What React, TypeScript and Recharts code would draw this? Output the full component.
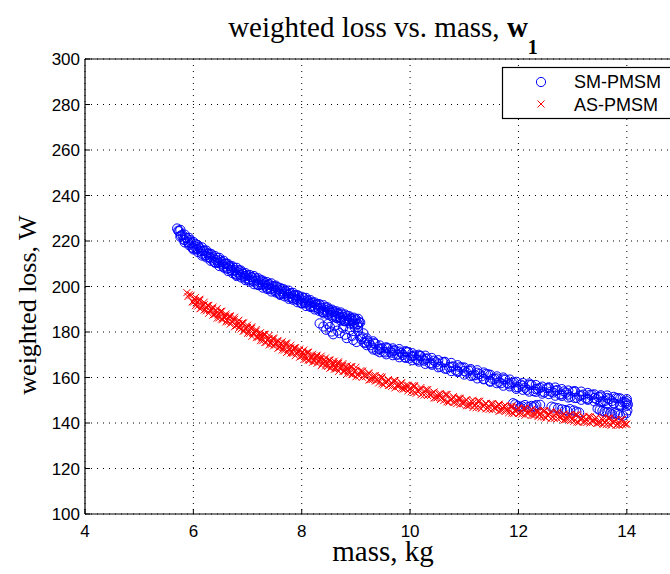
import React from 'react';
import { ScatterChart, Scatter, XAxis, YAxis, CartesianGrid, Legend } from 'recharts';

const xTicks = [4, 6, 8, 10, 12, 14];
const yTicks = [100, 120, 140, 160, 180, 200, 220, 240, 260, 280, 300];

const smMass = [
  5.70, 5.72, 5.74, 5.77, 5.80, 5.84, 5.88, 5.92, 5.96, 6.00,
  6.04, 6.08, 6.12, 6.16, 6.20, 6.24, 6.28, 6.32, 6.36, 6.40,
  6.44, 6.48, 6.52, 6.56, 6.60, 6.64, 6.68, 6.72, 6.76, 6.80,
  6.84, 6.88, 6.92, 6.96, 7.00, 7.04, 7.08, 7.12, 7.16, 7.20,
  7.24, 7.28, 7.32, 7.36, 7.40, 7.44, 7.48, 7.52, 7.56, 7.60,
  7.64, 7.68, 7.72, 7.76, 7.80, 7.84, 7.88, 7.92, 7.96, 8.00,
  8.04, 8.08, 8.12, 8.16, 8.20, 8.24, 8.28, 8.32, 8.36, 8.40,
  8.44, 8.48, 8.52, 8.56, 8.60, 8.64, 8.68, 8.72, 8.76, 8.80,
  8.84, 8.88, 8.92, 8.96, 9.00, 9.04, 9.08,
  5.82, 5.86, 5.90, 5.94, 5.98, 6.02, 6.06, 6.10, 6.14, 6.18,
  6.22, 6.26, 6.30, 6.34, 6.38, 6.42, 6.46, 6.50, 6.54, 6.58,
  6.62, 6.66, 6.70, 6.74, 6.78, 6.82, 6.86, 6.90, 6.94, 6.98,
  7.02, 7.06, 7.10, 7.14, 7.18, 7.22, 7.26, 7.30, 7.34, 7.38,
  7.42, 7.46, 7.50, 7.54, 7.58, 7.62, 7.66, 7.70, 7.74, 7.78,
  7.82, 7.86, 7.90, 7.94, 7.98, 8.02, 8.06, 8.10, 8.14, 8.18,
  8.22, 8.26, 8.30, 8.34, 8.38, 8.42, 8.46, 8.50, 8.54, 8.58,
  8.62, 8.66, 8.70, 8.74, 8.78, 8.82, 8.86, 8.90, 8.94, 8.98,
  9.02, 9.06,
  8.40, 8.48, 8.55, 8.62, 8.70, 8.83, 8.89, 8.98, 9.01, 9.07,
  8.33, 8.45, 8.52, 8.66, 8.76, 8.80, 8.93, 9.04, 9.10, 9.14, 8.58, 8.95,
  9.12, 9.18, 9.24, 9.30, 9.36, 9.42, 9.48, 9.54, 9.60, 9.66,
  9.72, 9.78, 9.84, 9.90, 9.96, 10.02, 10.08, 10.14, 10.20, 10.26,
  10.32, 10.40, 10.48, 10.56, 10.64, 10.72, 10.80, 10.88, 10.96, 11.04,
  11.12, 11.20, 11.28, 11.36, 11.44, 11.52, 11.60, 11.68, 11.76, 11.84,
  11.92, 12.00, 12.08, 12.16, 12.24, 12.32, 12.40, 12.48, 12.56, 12.64,
  12.72, 12.80, 12.88, 12.96, 13.04, 13.12, 13.20, 13.28, 13.36, 13.44,
  13.52, 13.60, 13.68, 13.76, 13.84, 13.92, 14.00, 14.02,
  9.15, 9.21, 9.27, 9.33, 9.39, 9.45, 9.51, 9.57, 9.63, 9.69,
  9.75, 9.81, 9.87, 9.93, 9.99, 10.05, 10.11, 10.17, 10.23, 10.29,
  10.36, 10.44, 10.52, 10.60, 10.68, 10.76, 10.84, 10.92, 11.00, 11.08,
  11.16, 11.24, 11.32, 11.40, 11.48, 11.56, 11.64, 11.72, 11.80, 11.88,
  11.96, 12.04, 12.12, 12.20, 12.28, 12.36, 12.44, 12.52, 12.60, 12.68,
  12.76, 12.84, 12.92, 13.00, 13.08, 13.16, 13.24, 13.32, 13.40, 13.48,
  13.56, 13.64, 13.72, 13.80, 13.88, 13.96,
  11.90, 11.99, 12.03, 12.12, 12.24, 12.27, 12.33, 12.61, 12.73, 12.86,
  12.95, 13.07, 13.50, 13.59, 13.69, 13.78, 13.87, 13.99, 13.99,
  11.94, 12.07, 12.18, 12.30, 12.40, 12.66, 12.80, 12.90, 13.02, 13.12,
  13.46, 13.55, 13.64, 13.73, 13.83, 13.93, 14.01,
];
const smLoss = [
  225.5, 224.5, 224.3, 222.5, 222.6, 220.4, 221.3, 218.9, 219.1, 216.8,
  218.7, 216.5, 216.7, 214.4, 215.9, 213.7, 214.5, 212.3, 212.8, 210.7,
  212.6, 210.6, 210.8, 208.7, 210.2, 208.0, 208.9, 206.7, 207.2, 205.2,
  207.2, 205.2, 205.6, 203.5, 205.1, 203.1, 204.1, 202.1, 202.7, 200.8,
  202.9, 201.0, 201.4, 199.4, 201.1, 199.1, 200.1, 198.1, 198.7, 196.8,
  198.9, 197.0, 197.4, 195.4, 197.1, 195.1, 196.1, 194.1, 194.7, 192.8,
  194.9, 193.0, 193.4, 191.4, 193.1, 191.1, 192.1, 190.1, 190.7, 188.8,
  190.9, 189.0, 189.4, 187.4, 189.1, 187.1, 188.1, 186.1, 186.7, 184.9,
  187.1, 185.3, 185.7, 183.8, 185.6, 183.5, 184.2,
  220.6, 221.5, 219.6, 220.4, 217.1, 217.8, 216.2, 217.4, 215.6, 215.6,
  213.5, 214.6, 212.9, 214.0, 210.9, 211.7, 210.3, 211.5, 209.7, 209.9,
  207.8, 209.0, 207.3, 208.3, 205.3, 206.3, 204.9, 206.2, 204.5, 204.7,
  202.8, 204.1, 202.6, 203.8, 200.9, 201.9, 200.6, 202.0, 200.4, 200.7,
  198.8, 200.1, 198.6, 199.8, 196.9, 197.9, 196.6, 198.0, 196.4, 196.7,
  194.8, 196.1, 194.6, 195.8, 192.9, 193.9, 192.6, 194.0, 192.4, 192.7,
  190.8, 192.1, 190.6, 191.8, 188.9, 189.9, 188.6, 190.0, 188.4, 188.7,
  186.8, 188.1, 186.6, 187.8, 184.9, 186.0, 184.8, 186.3, 184.8, 185.2,
  183.2, 184.3,
  182.4, 183.5, 180.2, 182.8, 179.5, 177.3, 180.9, 182.0, 175.6, 178.0,
  183.8, 181.0, 182.2, 180.6, 181.8, 178.8, 178.3, 180.5, 176.8, 179.4, 179.0, 176.5,
  177.7, 175.3, 175.4, 173.1, 174.8, 172.5, 172.9, 171.0, 172.8, 170.9,
  172.0, 170.1, 170.8, 169.0, 171.1, 169.3, 169.7, 167.7, 169.4, 167.4,
  168.4, 166.2, 166.7, 164.7, 166.7, 164.6, 164.9, 162.8, 164.4, 162.2,
  163.1, 161.0, 161.5, 159.4, 161.4, 159.4, 159.6, 157.5, 159.1, 157.0,
  157.8, 155.7, 156.4, 154.6, 156.7, 154.9, 155.4, 153.5, 155.3, 153.4,
  154.5, 152.6, 153.3, 151.5, 153.8, 152.0, 152.5, 150.6, 152.4, 150.5,
  151.6, 149.7, 150.5, 148.7, 150.9, 149.1, 149.6, 148.1,
  175.3, 176.2, 174.2, 175.1, 171.8, 172.6, 171.4, 172.9, 171.4, 171.8,
  170.0, 171.4, 169.9, 171.2, 168.4, 169.4, 168.1, 169.5, 167.9, 168.2,
  166.2, 167.4, 165.8, 166.8, 163.8, 164.7, 163.2, 164.5, 162.8, 163.0,
  160.9, 162.1, 160.5, 161.6, 158.5, 159.4, 158.0, 159.2, 157.5, 157.7,
  155.7, 156.9, 155.5, 156.8, 154.0, 155.1, 153.8, 155.3, 153.8, 154.2,
  152.5, 153.9, 152.5, 153.8, 151.0, 152.1, 150.9, 152.4, 151.0, 151.4,
  149.6, 151.0, 149.6, 150.9, 148.1, 149.2,
  148.7, 147.5, 146.9, 147.9, 147.5, 146.9, 147.9, 147.2, 146.5, 145.7,
  146.1, 145.0, 145.7, 145.0, 144.3, 144.3, 143.5, 144.3, 148.7,
  148.2, 147.3, 147.0, 147.4, 148.0, 146.8, 146.0, 145.4, 145.5, 144.6,
  146.3, 145.3, 144.8, 143.8, 144.0, 143.2, 145.5,
];

// SM-PMSM points along the upper and lower edges of the band
const smEdgeMass = [
  5.76, 5.84, 5.92, 6.00, 6.08, 6.16, 6.24, 6.32, 6.40, 6.48,
  6.56, 6.64, 6.72, 6.80, 6.88, 6.96, 7.04, 7.12, 7.20, 7.28,
  7.36, 7.44, 7.52, 7.60, 7.68, 7.76, 7.84, 7.92, 8.00, 8.08,
  8.16, 8.24, 8.32, 8.40, 8.48, 8.56, 8.64, 8.72, 8.80, 8.88,
  8.96, 9.04,
  9.20, 9.32, 9.44, 9.56, 9.68, 9.80, 9.92, 10.04,
  10.16, 10.28, 10.40, 10.52, 10.64, 10.76, 10.88, 11.00, 11.12, 11.24,
  11.36, 11.48, 11.60, 11.72, 11.84, 11.96, 12.08, 12.20, 12.32, 12.44,
  12.56, 12.68, 12.80, 12.92, 13.04, 13.16, 13.28, 13.40, 13.52, 13.64,
  13.76, 13.88, 14.00,
];
const smUpperLoss = [
  224.9, 222.8, 221.4, 219.6, 218.2, 217.2, 215.8, 214.4, 213.4, 212.6,
  211.3, 209.9, 208.9, 208.2, 207.0, 205.9, 205.1, 204.6, 203.6, 202.6,
  201.9, 201.4, 200.4, 199.4, 198.7, 198.2, 197.2, 196.2, 195.5, 195.0,
  194.0, 193.0, 192.3, 191.8, 190.8, 189.8, 189.1, 188.6, 187.7, 186.9,
  186.3, 185.8,
  177.2, 175.9, 174.1, 173.3, 172.8, 172.5, 171.6, 170.7,
  170.0, 169.6, 168.6, 167.6, 166.9, 166.4, 165.4, 164.4, 163.7, 163.2,
  162.2, 161.2, 160.5, 160.0, 159.1, 158.1, 157.6, 157.4, 156.7, 156.0,
  155.7, 155.6, 154.9, 154.3, 154.0, 153.8, 153.2, 152.6, 152.2, 152.1,
  151.5, 150.8, 150.5,
];
const smLowerLoss = [
  221.9, 219.4, 218.2, 216.3, 215.2, 213.6, 212.8, 211.3, 210.4, 209.0,
  208.3, 206.8, 205.9, 204.6, 204.0, 202.8, 202.1, 201.0, 200.6, 199.5,
  198.9, 197.8, 197.4, 196.3, 195.7, 194.6, 194.2, 193.1, 192.5, 191.4,
  191.0, 189.9, 189.3, 188.2, 187.8, 186.7, 186.1, 185.0, 184.7, 183.8,
  183.3, 182.2,
  174.2, 172.3, 171.1, 170.2, 169.8, 168.9, 168.6, 167.6,
  167.0, 166.0, 165.6, 164.5, 163.9, 162.8, 162.4, 161.3, 160.7, 159.6,
  159.2, 158.1, 157.5, 156.4, 156.1, 155.0, 154.6, 153.8, 153.7, 152.9,
  152.7, 152.0, 151.9, 151.2, 151.0, 150.2, 150.2, 149.5, 149.2, 148.5,
  148.5, 147.7, 147.5,
];

const asMass = [
  5.88, 5.90, 5.92, 5.96, 6.00, 6.04, 6.08, 6.12, 6.16, 6.20,
  6.24, 6.28, 6.32, 6.36, 6.40, 6.44, 6.48, 6.52, 6.56, 6.60,
  6.64, 6.68, 6.72, 6.76, 6.80, 6.84, 6.88, 6.92, 6.96, 7.00,
  7.04, 7.08, 7.12, 7.16, 7.20, 7.24, 7.28, 7.32, 7.36, 7.40,
  7.44, 7.48, 7.52, 7.56, 7.60, 7.64, 7.68, 7.72, 7.76, 7.80,
  7.84, 7.88, 7.92, 7.96, 8.00, 8.04, 8.08, 8.12, 8.16, 8.20,
  8.24, 8.28, 8.32, 8.36, 8.40, 8.44, 8.48, 8.52, 8.56, 8.60,
  8.64, 8.68, 8.72, 8.76, 8.80, 8.84, 8.88, 8.92, 8.96, 9.00,
  9.06, 9.12, 9.18, 9.24, 9.30, 9.36, 9.42, 9.48, 9.54, 9.60,
  9.66, 9.72, 9.78, 9.84, 9.90, 9.96, 10.02, 10.08, 10.14, 10.20,
  10.26, 10.32, 10.38, 10.44, 10.50, 10.56, 10.62, 10.68, 10.74, 10.80,
  10.86, 10.92, 10.98, 11.04, 11.10, 11.16, 11.22, 11.28, 11.34, 11.40,
  11.46, 11.52, 11.58, 11.64, 11.70, 11.76, 11.82, 11.88, 11.94, 12.00,
  12.06, 12.12, 12.18, 12.24, 12.30, 12.36, 12.42, 12.48, 12.54, 12.60,
  12.66, 12.72, 12.78, 12.84, 12.90, 12.96, 13.02, 13.08, 13.14, 13.20,
  13.26, 13.32, 13.38, 13.44, 13.50, 13.56, 13.62, 13.68, 13.74, 13.80,
  13.86, 13.92, 13.98, 14.00,
  5.98, 6.02, 6.06, 6.10, 6.14, 6.18, 6.22, 6.26, 6.30, 6.34,
  6.38, 6.42, 6.46, 6.50, 6.54, 6.58, 6.62, 6.66, 6.70, 6.74,
  6.78, 6.82, 6.86, 6.90, 6.94, 6.98, 7.02, 7.06, 7.10, 7.14,
  7.18, 7.22, 7.26, 7.30, 7.34, 7.38, 7.42, 7.46, 7.50, 7.54,
  7.58, 7.62, 7.66, 7.70, 7.74, 7.78, 7.82, 7.86, 7.90, 7.94,
  7.98, 8.02, 8.06, 8.10, 8.14, 8.18, 8.22, 8.26, 8.30, 8.34,
  8.38, 8.42, 8.46, 8.50, 8.54, 8.58, 8.62, 8.66, 8.70, 8.74,
  8.78, 8.82, 8.86, 8.90, 8.94, 8.98,
  9.03, 9.09, 9.15, 9.21, 9.27, 9.33, 9.39, 9.45, 9.51, 9.57,
  9.63, 9.69, 9.75, 9.81, 9.87, 9.93, 9.99,
  10.05, 10.11, 10.17, 10.23, 10.29, 10.35, 10.41, 10.47, 10.53, 10.59,
  10.65, 10.71, 10.77, 10.83, 10.89, 10.95,
  11.01, 11.07, 11.13, 11.19, 11.25, 11.31, 11.37, 11.43, 11.49, 11.55,
  11.61, 11.67, 11.73, 11.79, 11.85, 11.91, 11.97,
  12.03, 12.09, 12.15, 12.21, 12.27, 12.33, 12.39, 12.45, 12.51, 12.57,
  12.63, 12.69, 12.75, 12.81, 12.87, 12.93, 12.99,
  13.05, 13.11, 13.17, 13.23, 13.29, 13.35, 13.41, 13.47, 13.53, 13.59,
  13.65, 13.71, 13.77, 13.83, 13.89, 13.95,
];
const asLoss = [
  197.3, 195.6, 196.4, 196.2, 193.1, 193.8, 191.4, 193.9, 191.5, 192.0,
  189.3, 191.5, 189.1, 190.4, 187.8, 188.6, 186.2, 188.9, 186.5, 187.1,
  184.5, 186.7, 184.3, 185.6, 182.9, 183.7, 181.3, 183.9, 181.4, 182.0,
  179.4, 181.6, 179.1, 180.4, 177.7, 178.5, 176.2, 178.8, 176.5, 177.2,
  174.6, 176.9, 174.5, 175.9, 173.4, 174.3, 172.0, 174.7, 172.4, 173.1,
  170.6, 172.9, 170.5, 171.9, 169.4, 170.4, 168.1, 170.9, 168.6, 169.4,
  167.0, 169.4, 167.0, 168.5, 166.1, 167.1, 164.9, 167.6, 165.4, 166.2,
  163.8, 166.2, 163.9, 165.4, 163.0, 164.0, 161.8, 164.6, 162.4, 163.2,
  160.6, 162.8, 160.4, 161.7, 159.1, 159.9, 157.6, 160.2, 157.9, 158.6,
  156.1, 158.4, 156.0, 157.5, 155.0, 155.9, 153.7, 156.4, 154.1, 154.8,
  152.3, 154.6, 152.2, 153.6, 151.1, 152.0, 149.8, 152.5, 150.2, 151.0,
  148.5, 150.9, 148.5, 150.1, 147.8, 148.8, 146.7, 149.6, 147.5, 148.4,
  146.0, 148.5, 146.3, 147.9, 145.6, 146.7, 144.5, 147.4, 145.3, 146.2,
  143.9, 146.4, 144.2, 145.8, 143.5, 144.6, 142.6, 145.5, 143.4, 144.3,
  142.0, 144.5, 142.3, 143.9, 141.6, 142.7, 140.7, 143.6, 141.5, 142.4,
  140.2, 142.8, 140.7, 142.3, 140.1, 141.3, 139.3, 142.2, 140.2, 141.2,
  139.0, 141.6, 139.4, 139.5,
  193.3, 194.7, 192.7, 194.1, 190.4, 191.7, 190.0, 191.7, 189.5, 190.0,
  187.7, 189.5, 187.5, 189.0, 185.4, 186.7, 185.2, 186.9, 184.7, 185.2,
  182.9, 184.6, 182.5, 184.0, 180.4, 181.7, 180.0, 181.7, 179.5, 180.0,
  177.7, 179.4, 177.4, 179.0, 175.4, 176.8, 175.3, 177.0, 174.9, 175.5,
  173.3, 175.1, 173.2, 174.8, 171.3, 172.7, 171.2, 173.0, 170.9, 171.5,
  169.3, 171.1, 169.3, 171.0, 167.5, 169.0, 167.6, 169.4, 167.4, 168.1,
  166.0, 167.8, 166.0, 167.7, 164.3, 165.8, 164.4, 166.3, 164.3, 165.0,
  162.9, 164.8, 163.0, 164.7, 161.3, 162.8,
  161.3, 163.0, 160.8, 161.3, 159.0, 160.8, 158.8, 160.4, 156.8, 158.2,
  156.7, 158.5, 156.4, 157.0, 154.9, 156.7, 154.9,
  156.5, 153.0, 154.4, 152.9, 154.7, 152.6, 153.2, 151.0, 152.8, 151.0,
  152.6, 149.1, 150.6, 149.1, 150.9, 148.9,
  149.6, 147.6, 149.6, 147.8, 149.6, 146.3, 147.9, 146.6, 148.5, 146.6,
  147.4, 145.4, 147.4, 145.7, 147.4, 144.1, 145.7,
  144.4, 146.4, 144.5, 145.3, 143.3, 145.3, 143.7, 145.5, 142.2, 143.8,
  142.5, 144.5, 142.6, 143.4, 141.4, 143.4, 141.7,
  143.6, 140.3, 141.9, 140.7, 142.8, 140.9, 141.8, 139.9, 141.9, 140.3,
  142.2, 139.0, 140.7, 139.4, 141.5, 139.7,
];

// AS-PMSM points along the upper and lower edges of the band
const asEdgeMass = [
  6.04, 6.12, 6.20, 6.28, 6.36, 6.44, 6.52, 6.60, 6.68, 6.76,
  6.84, 6.92, 7.00, 7.08, 7.16, 7.24, 7.32, 7.40, 7.48, 7.56,
  7.64, 7.72, 7.80, 7.88, 7.96, 8.04, 8.12, 8.20, 8.28, 8.36,
  8.44, 8.52, 8.60, 8.68, 8.76, 8.84, 8.92, 9.00,
  9.12, 9.24, 9.36, 9.48, 9.60, 9.72, 9.84, 9.96, 10.08, 10.20,
  10.32, 10.44, 10.56, 10.68, 10.80, 10.92, 11.04, 11.16, 11.28, 11.40,
  11.52, 11.64, 11.76, 11.88, 12.00, 12.12, 12.24, 12.36, 12.48, 12.60,
  12.72, 12.84, 12.96, 13.08, 13.20, 13.32, 13.44, 13.56, 13.68, 13.80,
  13.92,
];
const asUpperLoss = [
  195.2, 194.4, 193.1, 191.7, 191.0, 190.3, 189.2, 187.9, 187.1, 186.5,
  185.2, 183.9, 183.0, 182.3, 181.1, 179.7, 179.0, 178.5, 177.4, 176.3,
  175.7, 175.2, 174.2, 173.1, 172.5, 172.1, 171.2, 170.2, 169.8, 169.4,
  168.6, 167.6, 167.2, 166.9, 166.1, 165.2, 164.8, 164.5,
  162.7, 162.1, 160.9, 159.7, 159.1, 158.6, 157.7, 156.6, 156.1, 155.6,
  154.6, 153.5, 152.9, 152.5, 151.6, 150.6, 150.2, 150.0, 149.4, 148.7,
  148.4, 148.3, 147.7, 146.9, 146.7, 146.6, 146.0, 145.3, 145.2, 145.1,
  144.5, 143.8, 143.6, 143.6, 143.0, 142.5, 142.4, 142.5, 142.0, 141.5,
  141.5,
];
const asLowerLoss = [
  191.6, 190.2, 189.6, 188.2, 187.4, 186.1, 185.7, 184.4, 183.5, 182.3,
  181.7, 180.4, 179.4, 178.1, 177.6, 176.2, 175.4, 174.3, 173.9, 172.8,
  172.1, 171.0, 170.7, 169.6, 168.9, 167.9, 167.7, 166.7, 166.2, 165.2,
  165.1, 164.1, 163.6, 162.7, 162.6, 161.7, 161.2, 160.3,
  160.1, 158.9, 158.4, 157.2, 156.5, 155.4, 155.2, 154.1, 153.5, 152.4,
  152.1, 151.0, 150.3, 149.3, 149.1, 148.1, 147.6, 146.8, 146.9, 146.2,
  145.8, 145.1, 145.2, 144.4, 144.1, 143.4, 143.5, 142.8, 142.6, 141.9,
  142.0, 141.3, 141.0, 140.4, 140.5, 140.0, 139.8, 139.3, 139.5, 139.0,
  139.2,
];

const seriesNames = ['SM-PMSM', 'AS-PMSM'];

const smData = [
  ...smMass.map((m, i) => ({ mass: m, loss: smLoss[i] })),
  ...smEdgeMass.map((m, i) => ({ mass: m, loss: smUpperLoss[i] })),
  ...smEdgeMass.map((m, i) => ({ mass: m, loss: smLowerLoss[i] })),
];
const asData = [
  ...asMass.map((m, i) => ({ mass: m, loss: asLoss[i] })),
  ...asEdgeMass.map((m, i) => ({ mass: m, loss: asUpperLoss[i] })),
  ...asEdgeMass.map((m, i) => ({ mass: m, loss: asLowerLoss[i] })),
];

const SERIF = '"Liberation Serif", "Times New Roman", serif';
const SANS = '"Liberation Sans", Arial, Helvetica, sans-serif';

const CircleShape = (p: any) => (
  <circle cx={p.cx} cy={p.cy} r={4.6} fill="none" stroke="#0000ff" strokeWidth={1} />
);
const CrossShape = (p: any) => (
  <path
    d={`M${p.cx - 3.5},${p.cy - 3.5}L${p.cx + 3.5},${p.cy + 3.5}M${p.cx - 3.5},${p.cy + 3.5}L${p.cx + 3.5},${p.cy - 3.5}`}
    stroke="#ff0000"
    strokeWidth={1}
    fill="none"
  />
);

const BottomTick = (p: any) => (
  <g>
    <line x1={p.x} y1={p.y} x2={p.x} y2={p.y - 5} stroke="#000" strokeWidth={1} />
    <text x={p.x} y={p.y + 23} textAnchor="middle" fontSize={17} fontFamily={SANS} fill="#000">
      {p.payload.value}
    </text>
  </g>
);
const TopTick = (p: any) => (
  <line x1={p.x} y1={p.y} x2={p.x} y2={p.y + 5} stroke="#000" strokeWidth={1} />
);
const LeftTick = (p: any) => (
  <g>
    <line x1={p.x} y1={p.y} x2={p.x + 5} y2={p.y} stroke="#000" strokeWidth={1} />
    <text x={p.x - 5} y={p.y + 6} textAnchor="end" fontSize={17} fontFamily={SANS} fill="#000">
      {p.payload.value}
    </text>
  </g>
);

const LegendBox = () => (
  <svg width={200} height={53} style={{ display: 'block', overflow: 'visible' }}>
    <rect x={0.5} y={0.5} width={199} height={51} fill="#fff" stroke="#000" strokeWidth={1.2} />
    <circle cx={39} cy={15} r={4.6} fill="none" stroke="#0000ff" strokeWidth={1} />
    <text x={72} y={21} fontSize={18} fontFamily={SANS} fill="#000">{seriesNames[0]}</text>
    <path d="M35.5,33.5L42.5,40.5M35.5,40.5L42.5,33.5" stroke="#ff0000" strokeWidth={1} />
    <text x={72} y={44} fontSize={18} fontFamily={SANS} fill="#000">{seriesNames[1]}</text>
  </svg>
);

export default function App() {
  return (
    <div
      style={{
        position: 'fixed',
        left: 0,
        top: 0,
        width: 670,
        height: 574,
        overflow: 'hidden',
        background: '#fff',
      }}
    >
      <ScatterChart width={700} height={574} margin={{ top: 58, right: 19, bottom: 0, left: 0 }}>
        <CartesianGrid stroke="#000" strokeDasharray="1 5" strokeWidth={1} />
        <XAxis
          dataKey="mass"
          type="number"
          domain={[4, 15]}
          ticks={xTicks}
          interval={0}
          height={60}
          tickSize={0}
          tickMargin={0}
          tickLine={false}
          axisLine={{ stroke: '#000', strokeWidth: 1.2 }}
          tick={BottomTick}
          allowDataOverflow
          label={(lp: any) => (
            <g>
              <text x={383} y={561} textAnchor="middle" fontSize={29} fontFamily={SERIF} fill="#000">
                mass, kg
              </text>
              <text x={383} y={37} textAnchor="middle" fontSize={29} fontFamily={SERIF} fill="#000">
                weighted loss vs. mass,{' '}
                <tspan fontWeight="bold">w</tspan>
                <tspan fontWeight="bold" fontSize={20} dy={17}>1</tspan>
              </text>
            </g>
          )}
        />
        <XAxis
          xAxisId="top"
          orientation="top"
          type="number"
          domain={[4, 15]}
          ticks={xTicks}
          interval={0}
          height={1}
          tickSize={0}
          tickMargin={0}
          tickLine={false}
          axisLine={{ stroke: '#000', strokeWidth: 1.2 }}
          tick={TopTick}
          allowDataOverflow
        />
        <YAxis
          dataKey="loss"
          type="number"
          domain={[100, 300]}
          ticks={yTicks}
          interval={0}
          width={85}
          tickSize={0}
          tickMargin={0}
          tickLine={false}
          axisLine={{ stroke: '#000', strokeWidth: 1.2 }}
          tick={LeftTick}
          allowDataOverflow
          label={(lp: any) => (
            <text
              transform="rotate(-90)"
              x={-305}
              y={36}
              textAnchor="middle"
              fontSize={26}
              fontFamily={SERIF}
              fill="#000"
            >
              weighted loss, W
            </text>
          )}
        />
        <Legend
          layout="vertical"
          align="center"
          verticalAlign="middle"
          wrapperStyle={{ left: 502, top: 67, width: 200, height: 53 }}
          content={() => <LegendBox />}
        />
        <Scatter name={seriesNames[0]} data={smData} shape={CircleShape} isAnimationActive={false} />
        <Scatter name={seriesNames[1]} data={asData} shape={CrossShape} isAnimationActive={false} />
      </ScatterChart>
    </div>
  );
}
